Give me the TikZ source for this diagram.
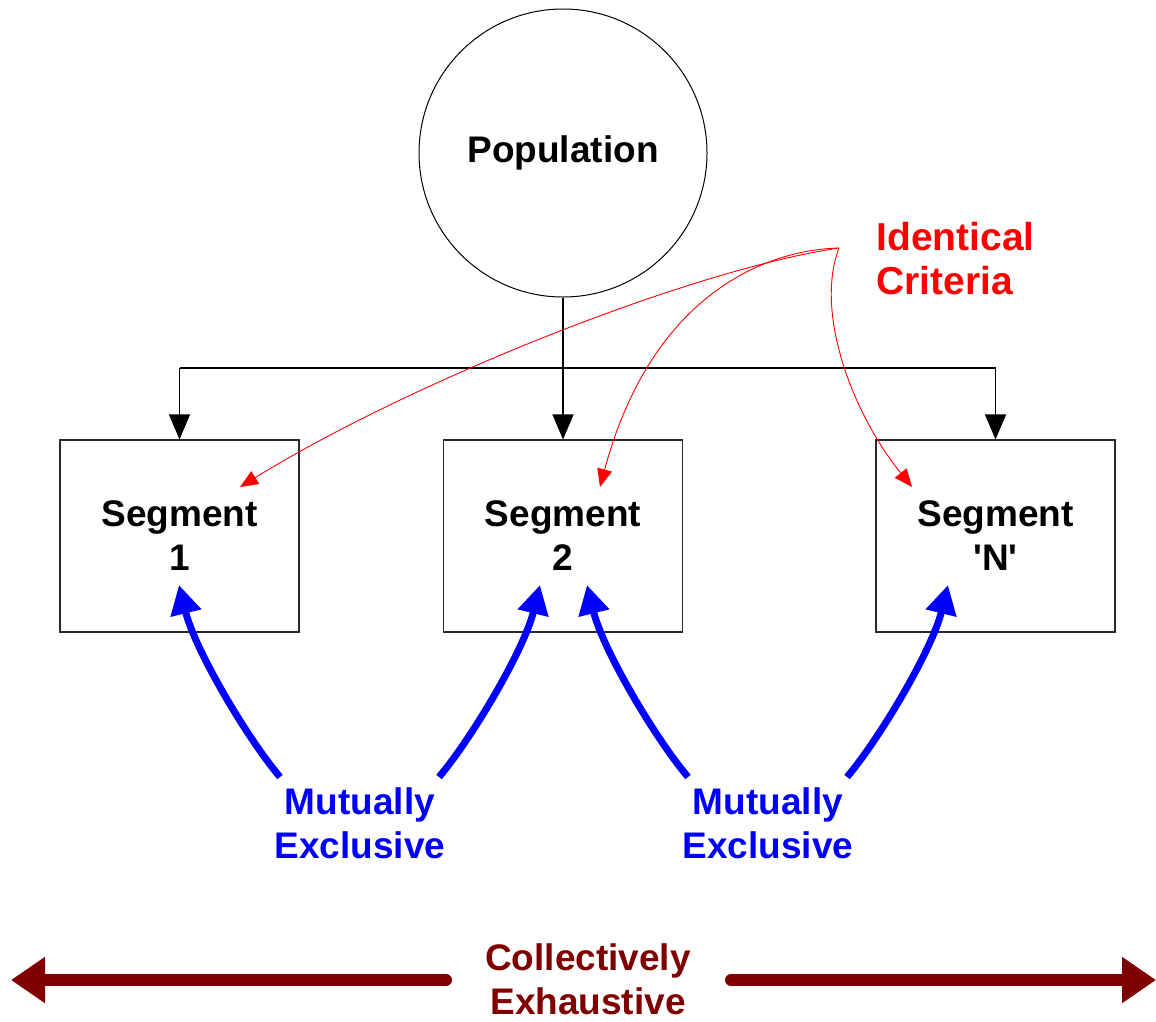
\documentclass[tikz,border=0pt]{standalone}
\usepackage{fontspec}
\setmainfont{Liberation Sans}
\usetikzlibrary{arrows.meta}
\definecolor{darkred}{RGB}{128,0,0}
\definecolor{boxgray}{RGB}{40,40,40}
\begin{document}
\begin{tikzpicture}[x=1pt,y=-1pt,
  lbl/.style={font=\fontsize{37}{44}\selectfont\bfseries, align=center},
  segbox/.style={draw=boxgray, line width=1.1pt, rectangle, minimum width=239pt, minimum height=192pt, inner sep=0pt, lbl},
  tree/.style={draw=black, line width=1.1pt, -{Triangle[length=25pt,width=21pt]}},
  crit/.style={draw=red, line width=0.9pt, -{Triangle[length=18pt,width=15pt]}},
  mutex/.style={draw=blue, line width=7pt, -{Triangle[length=29pt,width=30pt]}},
  coll/.style={draw=darkred, line width=12pt, line cap=round, {Triangle[length=34pt,width=44pt]}-}
]
\useasboundingbox (0,0) rectangle (1156,1021);

\node[draw=black, line width=1pt, circle, minimum size=288pt, inner sep=0pt, lbl] (pop) at (563,153) {Population};

\node[segbox] (s1) at (179.5,536) {Segment\\1};
\node[segbox] (s2) at (563,536) {Segment\\2};
\node[segbox] (s3) at (995.5,536) {Segment\\\textquotesingle N\textquotesingle};

% tree connectors
\coordinate (j1) at (179.5,368);
\coordinate (j3) at (995.5,368);
\draw[tree] (pop.south) -- (s2.north);
\draw[draw=black, line width=1.1pt] (j1) -- (j3);
\draw[tree] (j1) -- (s1.north);
\draw[tree] (j3) -- (s3.north);

% identical criteria
\node[anchor=west, text=red, font=\fontsize{39}{44}\selectfont\bfseries, align=left] (crit) at (873,259) {Identical\\Criteria};
\coordinate (o) at (839,248);
\coordinate (t1) at (240,487);
\coordinate (t2) at (600,487);
\coordinate (t3) at (912,487);
\draw[crit] (o) .. controls (690,270) and (410,382) .. (t1);
\draw[crit] (o) .. controls (760,250) and (650,300) .. (t2);
\draw[crit] (o) .. controls (815,310) and (850,410) .. (t3);

% mutually exclusive
\node[lbl, text=blue] (me1) at (360,823) {Mutually\\Exclusive};
\node[lbl, text=blue] (me2) at (768,823) {Mutually\\Exclusive};
\coordinate (a1s) at (280,777);
\coordinate (a1t) at (179,585);
\coordinate (a2s) at (439,777);
\coordinate (a2t) at (540,585);
\coordinate (a3s) at (688,777);
\coordinate (a3t) at (587,585);
\coordinate (a4s) at (847,777);
\coordinate (a4t) at (948,585);
\draw[mutex] (a1s) .. controls (247,738) and (195,650) .. (a1t);
\draw[mutex] (a2s) .. controls (472,738) and (524,650) .. (a2t);
\draw[mutex] (a3s) .. controls (655,738) and (603,650) .. (a3t);
\draw[mutex] (a4s) .. controls (880,738) and (932,650) .. (a4t);

% collectively exhaustive
\node[lbl, text=darkred] (ce) at (588,979) {Collectively\\Exhaustive};
\coordinate (cl) at (11,980);
\coordinate (cls) at (446,980);
\coordinate (cr) at (1156,980);
\coordinate (crs) at (731,980);
\draw[coll] (cl) -- (cls);
\draw[coll] (cr) -- (crs);
\end{tikzpicture}
\end{document}
